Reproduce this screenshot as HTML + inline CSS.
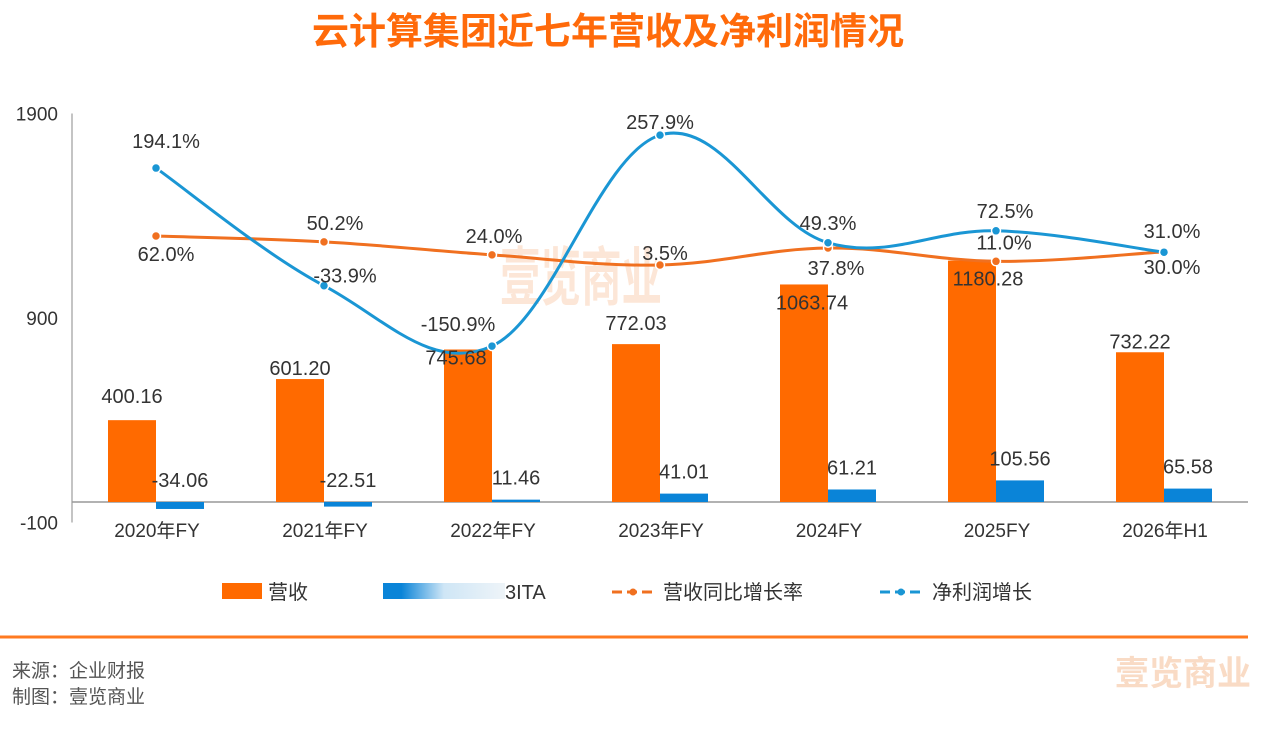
<!DOCTYPE html>
<html><head><meta charset="utf-8"><style>
body{margin:0;width:1268px;height:730px;background:#fff;overflow:hidden;font-family:"Liberation Sans","Noto Sans CJK SC",sans-serif}
</style></head><body>
<svg id="c" width="1268" height="730" xmlns="http://www.w3.org/2000/svg" style="position:absolute;left:0;top:0;font-family:'Liberation Sans','Noto Sans CJK SC',sans-serif">
<text x="608" y="44" text-anchor="middle" font-size="37" font-weight="bold" fill="#ff6a0a">云计算集团近七年营收及净利润情况</text>
<text x="500" y="300" font-size="64" font-weight="bold" fill="#f9c9a8" opacity="0.45" textLength="162" lengthAdjust="spacingAndGlyphs">壹览商业</text>
<g id="axes"></g>
<g id="marks"></g>
<g id="legend" font-size="20" fill="#333">
<rect x="222" y="583" width="40" height="16" fill="#ff6a00"/>
<text x="268" y="599">营收</text>
<defs><linearGradient id="fade"><stop offset="0" stop-color="#0a84d8"/><stop offset="0.15" stop-color="#0a84d8"/><stop offset="0.5" stop-color="#cfe6f6"/><stop offset="1" stop-color="#eef4f8"/></linearGradient></defs>
<rect x="383" y="583" width="122" height="16" fill="url(#fade)"/>
<text x="505" y="599">3ITA</text>
<line x1="612" y1="592" x2="655" y2="592" stroke="#f07020" stroke-width="3" stroke-dasharray="10,5"/>
<circle cx="633" cy="592" r="3.5" fill="#f07020"/>
<text x="663" y="599">营收同比增长率</text>
<line x1="880" y1="592" x2="923" y2="592" stroke="#1a96d4" stroke-width="3" stroke-dasharray="10,5"/>
<circle cx="901" cy="592" r="3.5" fill="#1a96d4"/>
<text x="932" y="599">净利润增长</text>
</g>
<line x1="0" y1="637" x2="1248" y2="637" stroke="#ff7a20" stroke-width="3"/>
<text x="12" y="677" font-size="19" fill="#555">来源：企业财报</text>
<text x="12" y="703" font-size="19" fill="#555">制图：壹览商业</text>
<text x="1115" y="685" font-size="34" font-weight="bold" fill="#f3b080" opacity="0.45">壹览商业</text>
</svg>
<script>
const categories=["2020年FY","2021年FY","2022年FY","2023年FY","2024FY","2025FY","2026年H1"];
const revenue=[400.16,601.20,745.68,772.03,1063.74,1180.28,732.22];
const ebita=[-34.06,-22.51,11.46,41.01,61.21,105.56,65.58];
const revGrowth=[62.0,50.2,24.0,3.5,37.8,11.0,30.0];
const profitGrowth=[194.1,-33.9,-150.9,257.9,49.3,72.5,31.0];
const yTicks=[1900,900,-100];
const revLabelDy=[-17,-4,15,-14,25,25,-4];
const revLabelDx=[0,0,-12,0,8,16,0];
const rgDx=[10,11,2,5,8,8,8], rgDy=[25,-12,-12,-5,27,-12,22];
const pgDx=[10,21,-34,0,0,9,8], pgDy=[-20,-3,-15,-6,-13,-13,-14];
const NS="http://www.w3.org/2000/svg";
const y=v=>502-v*0.2045;
const yR=v=>266.75-v*0.496;
const yP=v=>268.2-v*0.516;
const cx=i=>156+i*168;
function mk(tag,attrs,parent,text){const e=document.createElementNS(NS,tag);for(const k in attrs)e.setAttribute(k,attrs[k]);if(text!=null)e.textContent=text;parent.appendChild(e);return e;}
const ax=document.getElementById('axes'),mg=document.getElementById('marks');
let e=mk('line',{x1:72,y1:y(1900),x2:72,y2:y(-100),stroke:'#888'},ax);


e=mk('line',{x1:72,y1:y(0),x2:1248,y2:y(0),stroke:'#999','stroke-width':1.5},ax);


yTicks.forEach(t=>{const el=mk('text',{x:58,y:y(t)+7,'text-anchor':'end','font-size':19,fill:'#333'},ax,String(t));

});
categories.forEach((c,i)=>{const el=mk('text',{x:cx(i)+1,y:537,'text-anchor':'middle','font-size':19,fill:'#333'},ax,c);

});
revenue.forEach((v,i)=>{const b=mk('rect',{x:cx(i)-48,y:y(v),width:48,height:y(0)-y(v),fill:'#ff6a00'},mg);

});
ebita.forEach((v,i)=>{const top=Math.min(y(v),y(0)),h=Math.abs(y(v)-y(0));
const b=mk('rect',{x:cx(i),y:top,width:48,height:Math.max(h,1),fill:'#0a84d8'},mg);


const t=mk('text',{x:cx(i)+24,y:Math.min(y(v),y(0))-15,'text-anchor':'middle','font-size':20,fill:'#333'},mg,v.toFixed(2));

});
function smooth(pts){let d=`M${pts[0][0]},${pts[0][1]}`;for(let i=0;i<pts.length-1;i++){const p0=pts[i-1]||pts[i],p1=pts[i],p2=pts[i+1],p3=pts[i+2]||p2;const k=0.18;
d+=` C${p1[0]+(p2[0]-p0[0])*k},${p1[1]+(p2[1]-p0[1])*k} ${p2[0]-(p3[0]-p1[0])*k},${p2[1]-(p3[1]-p1[1])*k} ${p2[0]},${p2[1]}`;}return d;}
function series(vals,sc,color,name,dx,dy){const pts=vals.map((v,i)=>[cx(i),sc(v)]);
const p=mk('path',{d:smooth(pts),fill:'none',stroke:color,'stroke-width':3},mg);


pts.forEach((q,i)=>{const c=mk('circle',{cx:q[0],cy:q[1],r:4.5,fill:color,stroke:'#fff','stroke-width':1.5},mg);


const t=mk('text',{x:q[0]+dx[i],y:q[1]+dy[i],'text-anchor':'middle','font-size':20,fill:'#333'},mg,vals[i].toFixed(1)+'%');

});}
series(revGrowth,yR,'#f07020','revenue-growth',rgDx,rgDy);
series(profitGrowth,yP,'#1a96d4','profit-growth',pgDx,pgDy);
revenue.forEach((v,i)=>{const t=mk('text',{x:cx(i)-24+revLabelDx[i],y:y(v)+revLabelDy[i],'text-anchor':'middle','font-size':20,fill:'#333'},mg,v.toFixed(2));

});
</script>
</body></html>
